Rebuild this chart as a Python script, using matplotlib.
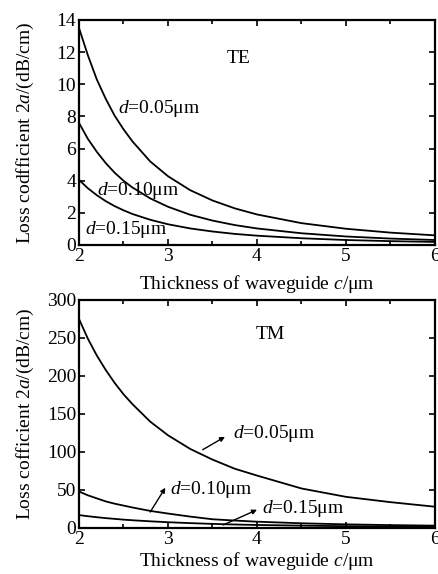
import matplotlib
matplotlib.use("Agg")
import matplotlib.pyplot as plt
from matplotlib.ticker import MultipleLocator

plt.rcParams['font.family'] = ['Liberation Serif', 'DejaVu Serif']
plt.rcParams['mathtext.fontset'] = 'custom'
plt.rcParams['mathtext.it'] = 'Liberation Serif:italic'
plt.rcParams['mathtext.rm'] = 'Liberation Serif'

# Thickness of waveguide c (um)
c = [2.0, 2.1, 2.2, 2.3, 2.4, 2.5, 2.6, 2.8, 3.0, 3.25, 3.5, 3.75, 4.0, 4.5, 5.0, 5.5, 6.0]

# TE loss coefficient (dB/cm)
te_d005 = [13.5, 11.8, 10.3, 9.1, 8.05, 7.2, 6.45, 5.2, 4.28, 3.41, 2.77, 2.28, 1.9, 1.36, 1.01, 0.77, 0.6]
te_d010 = [7.6, 6.6, 5.8, 5.1, 4.5, 4.0, 3.58, 2.9, 2.38, 1.88, 1.52, 1.24, 1.03, 0.73, 0.53, 0.4, 0.31]
te_d015 = [4.05, 3.53, 3.1, 2.73, 2.42, 2.16, 1.93, 1.57, 1.29, 1.03, 0.84, 0.69, 0.58, 0.42, 0.31, 0.24, 0.19]

# TM loss coefficient (dB/cm)
tm_d005 = [275, 249, 227, 208, 191, 176, 163, 140, 122, 104, 90, 78, 69, 52, 41, 34, 28]
tm_d010 = [48, 43, 39, 35, 32, 29.5, 27, 22.5, 19, 15, 11.5, 9.8, 8.3, 6.2, 4.8, 3.8, 3.1]
tm_d015 = [17, 15.5, 14.2, 13, 12, 11, 10.2, 8.8, 7.6, 6.4, 5.4, 4.6, 4.0, 3.1, 2.4, 1.9, 1.6]

labels = ["$d$=0.05μm", "$d$=0.10μm", "$d$=0.15μm"]

fig = plt.figure(figsize=(4.39, 5.74), dpi=100)
ax1 = fig.add_axes([79/439, 1-245/574, 356/439, 225/574])
ax2 = fig.add_axes([79/439, 1-528/574, 356/439, 228/574])

FS = 14
lw = 1.3

def style(ax, ymax, ystep):
    ax.set_xlim(2, 6)
    ax.set_ylim(0, ymax)
    ax.xaxis.set_major_locator(MultipleLocator(1))
    ax.xaxis.set_minor_locator(MultipleLocator(0.5))
    ax.yaxis.set_major_locator(MultipleLocator(ystep))
    ax.tick_params(which='both', direction='in', top=True, right=True,
                   labelsize=FS, pad=2, width=1.2)
    ax.tick_params(which='major', length=4)
    ax.tick_params(which='minor', length=3)
    for s in ax.spines.values():
        s.set_linewidth(1.6)
    ax.set_xlabel("Thickness of waveguide $c$/μm", fontsize=FS)

for y in (te_d005, te_d010, te_d015):
    ax1.plot(c, y, color='black', lw=lw)
style(ax1, 14, 2)
ax1.set_ylabel("Loss codfficient 2$a$/(dB/cm)", fontsize=FS)
ax1.yaxis.set_label_coords(-0.12, 0.5)
ax1.xaxis.set_label_coords(0.5, -0.125)
ax1.text(3.66, 11.6, "TE", fontsize=FS, va='center', ha='left')
ax1.text(2.44, 8.5, labels[0], fontsize=FS, va='center', ha='left')
ax1.text(2.2, 3.4, labels[1], fontsize=FS, va='center', ha='left')
ax1.text(2.07, 0.95, labels[2], fontsize=FS, va='center', ha='left')

for y in (tm_d005, tm_d010, tm_d015):
    ax2.plot(c, y, color='black', lw=lw)
style(ax2, 300, 50)
ax2.set_ylabel("Loss cofficient 2$a$/(dB/cm)", fontsize=FS)
ax2.yaxis.set_label_coords(-0.12, 0.5)
ax2.xaxis.set_label_coords(0.5, -0.095)
ax2.text(3.98, 254, "TM", fontsize=FS, va='center', ha='left')
ax2.text(3.73, 125, labels[0], fontsize=FS, va='center', ha='left')
ax2.text(3.02, 50, labels[1], fontsize=FS, va='center', ha='left')
ax2.text(4.06, 26, labels[2], fontsize=FS, va='center', ha='left')

ap = dict(arrowstyle='-|>', color='black', lw=1.0, mutation_scale=7,
          shrinkA=0, shrinkB=0)
ax2.annotate('', xy=(3.64, 120), xytext=(3.39, 103), arrowprops=ap)
ax2.annotate('', xy=(2.97, 53), xytext=(2.8, 21), arrowprops=ap)
ax2.annotate('', xy=(4.0, 24), xytext=(3.62, 4), arrowprops=ap)

fig.savefig("out.png", dpi=100)
